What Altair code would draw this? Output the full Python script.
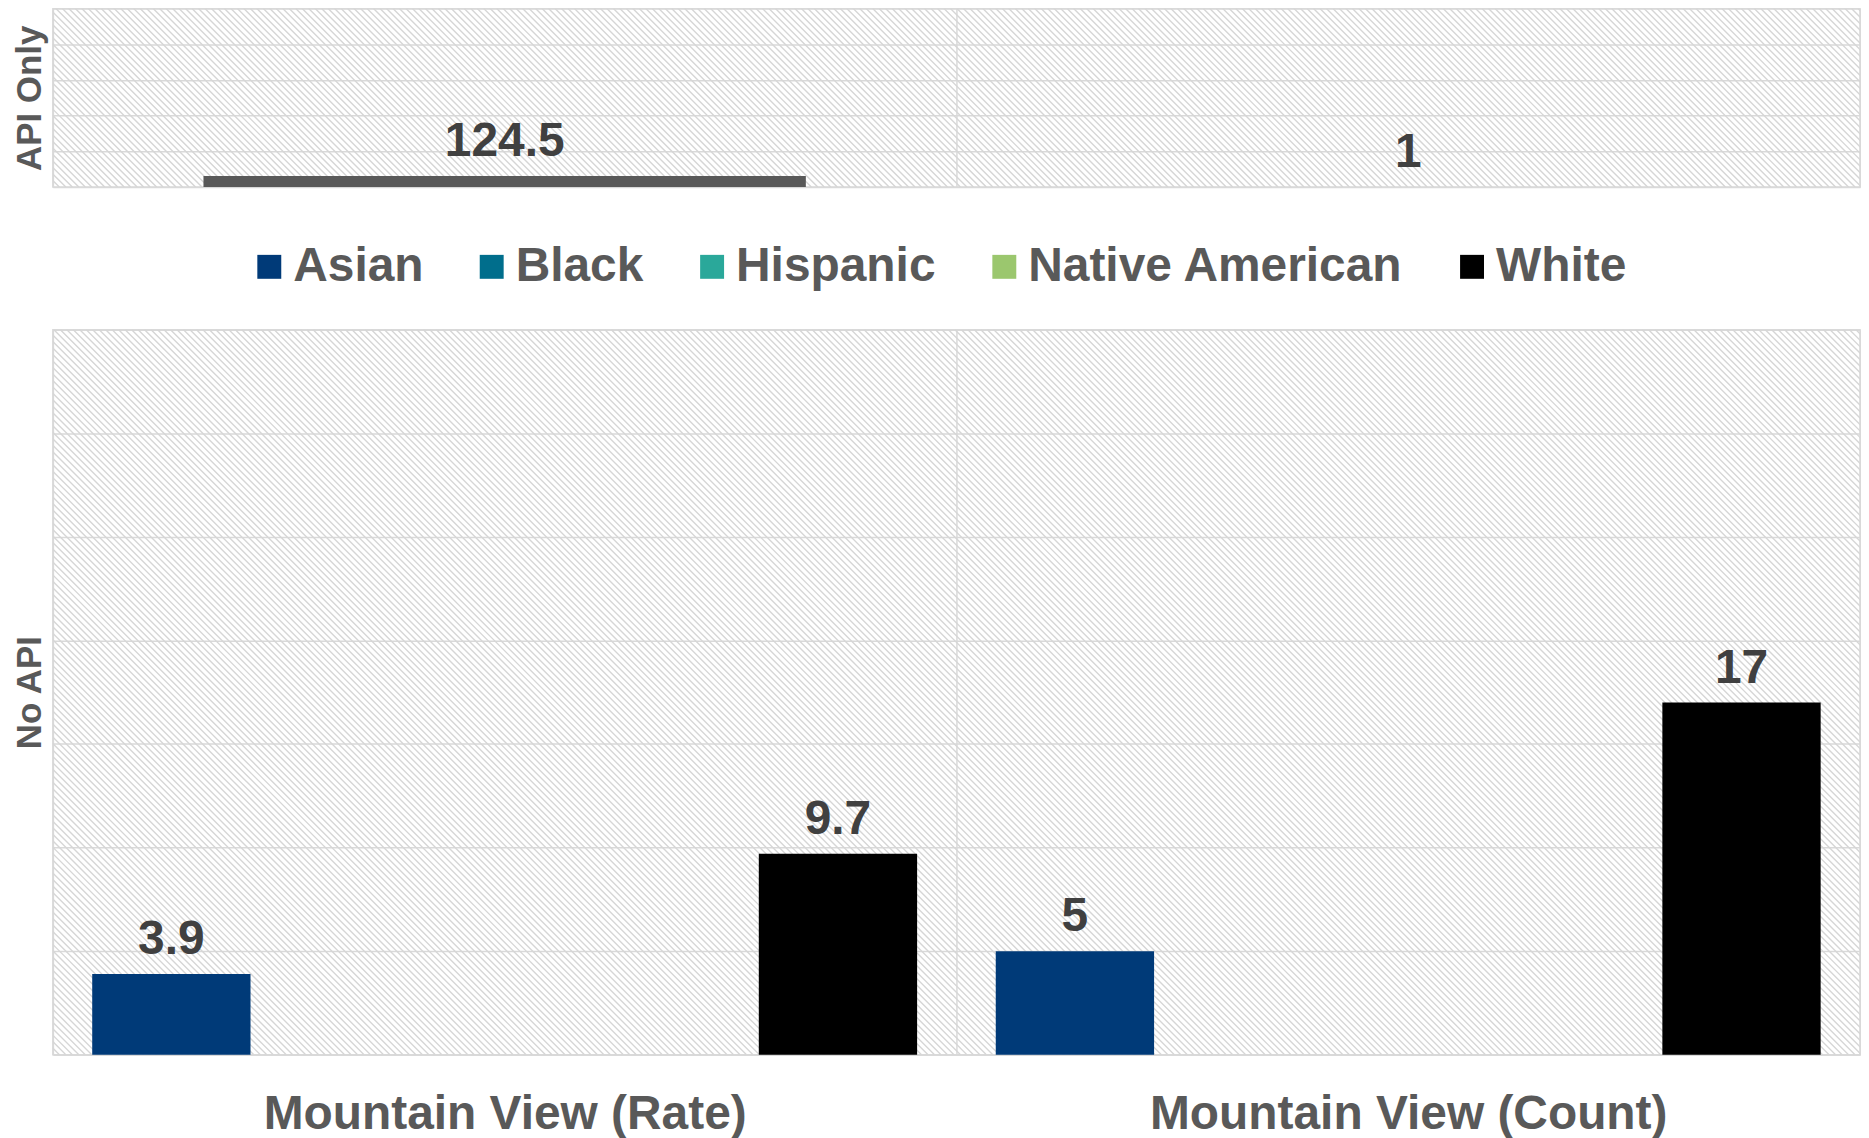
import altair as alt
import numpy as np
import pandas as pd

# ---- data ----
categories = ["Mountain View (Rate)", "Mountain View (Count)"]
groups = ["Asian", "Black", "Hispanic", "Native American", "White"]
group_colors = ["#003A78", "#006E8C", "#2AA89A", "#9BC76E", "#000000"]
asian = [3.9, 5]
black = [None, None]
hispanic = [None, None]
native_american = [None, None]
white = [9.7, 17]
api_only = [124.5, 1]

FONT = "Liberation Sans"
TEXT = "#595959"
LABEL = "#404040"
GRID = "#D9D9D9"
W = 1812
H_TOP = 179
H_BOT = 727

# ---- tables ----
rows = []
for g, vals in zip(groups, [asian, black, hispanic, native_american, white]):
    for c, v in zip(categories, vals):
        if v is not None:
            rows.append({"category": c, "group": g, "value": v})
no_api_df = pd.DataFrame(rows)
api_df = pd.DataFrame({"category": categories, "series": ["API Only"] * 2, "value": api_only})


def hatch_layer(h):
    """Decorative diagonal hatch texture of the plot background (pixel space)."""
    off = np.arange(-h, W + 7, 6.5)
    df = pd.DataFrame({"hx": off, "hx2": off + h, "hy": 0.0, "hy2": float(h)})
    return alt.Chart(df).mark_rule(clip=True, color="#D6D6D6", strokeWidth=1.4).encode(
        x=alt.X("hx:Q", scale=None, axis=None),
        x2="hx2:Q",
        y=alt.Y("hy:Q", scale=None, axis=None),
        y2="hy2:Q",
    )


def x_enc(show_labels):
    return alt.X(
        "category:N", sort=categories,
        scale=alt.Scale(domain=categories, paddingInner=0, paddingOuter=0),
        axis=alt.Axis(
            title=None, labels=show_labels, ticks=False, domain=False, grid=True,
            tickBand="extent", gridColor=GRID, gridWidth=1.5,
            labelFontSize=48, labelFontWeight="bold", labelColor=TEXT, labelFont=FONT,
            labelPadding=36, labelAngle=0, labelLimit=900,
        ),
    )


def y_axis(title, values):
    return alt.Axis(
        title=title, values=values, labels=False, ticks=False, domain=False,
        grid=True, gridColor=GRID, gridWidth=1.5,
        titleFontSize=35, titleFontWeight="bold", titleColor=TEXT, titleFont=FONT,
        titlePadding=5,
    )


# ---- top panel: API Only ----
top_base = alt.Chart(api_df).encode(
    x=x_enc(False),
    xOffset=alt.XOffset("series:N", scale=alt.Scale(domain=["API Only"], paddingInner=0, paddingOuter=0.25)),
    y=alt.Y("value:Q", scale=alt.Scale(domain=[0, 2000], nice=False),
            axis=y_axis("API Only", [0, 400, 800, 1200, 1600, 2000])),
)
top_data = alt.layer(
    top_base.mark_bar(color="#595959"),
    top_base.mark_text(dy=-20, baseline="alphabetic", fontSize=48, fontWeight="bold",
                       color=LABEL, font=FONT).encode(text=alt.Text("value:Q", format=".1~f")),
)
top = alt.layer(hatch_layer(H_TOP), top_data).resolve_scale(
    x="independent", y="independent"
).properties(width=W, height=H_TOP)

# ---- bottom panel: No API ----
bot_base = alt.Chart(no_api_df).encode(
    x=x_enc(True),
    xOffset=alt.XOffset("group:N", scale=alt.Scale(domain=groups, paddingInner=0.05, paddingOuter=0.236)),
    y=alt.Y("value:Q", scale=alt.Scale(domain=[0, 35], nice=False),
            axis=y_axis("No API", [0, 5, 10, 15, 20, 25, 30, 35])),
)
bot_data = alt.layer(
    bot_base.mark_bar().encode(
        color=alt.Color(
            "group:N",
            scale=alt.Scale(domain=groups, range=group_colors),
            legend=alt.Legend(
                orient="none", legendX=193, legendY=235, direction="horizontal", columns=5,
                title=None, symbolType="square", symbolSize=576, symbolStrokeWidth=0,
                labelFontSize=48, labelFontWeight="bold", labelColor=TEXT, labelFont=FONT,
                columnPadding=44, labelOffset=0, labelLimit=600,
            ),
        )
    ),
    bot_base.mark_text(dy=-20, baseline="alphabetic", fontSize=48, fontWeight="bold",
                       color=LABEL, font=FONT).encode(text=alt.Text("value:Q", format=".1~f")),
)
bottom = alt.layer(hatch_layer(H_BOT), bot_data).resolve_scale(
    x="independent", y="independent"
).properties(width=W, height=H_BOT)

chart = (
    alt.vconcat(top, bottom, spacing=141)
    .resolve_scale(x="independent", xOffset="independent", y="independent")
    .properties(padding={"left": 4, "top": -2, "right": 0, "bottom": 0})
    .configure(font=FONT)
    .configure_view(stroke=GRID, strokeWidth=1.5, fill="#FFFFFF")
)

chart.save("out.html", embed_options={"renderer": "svg", "actions": False})
